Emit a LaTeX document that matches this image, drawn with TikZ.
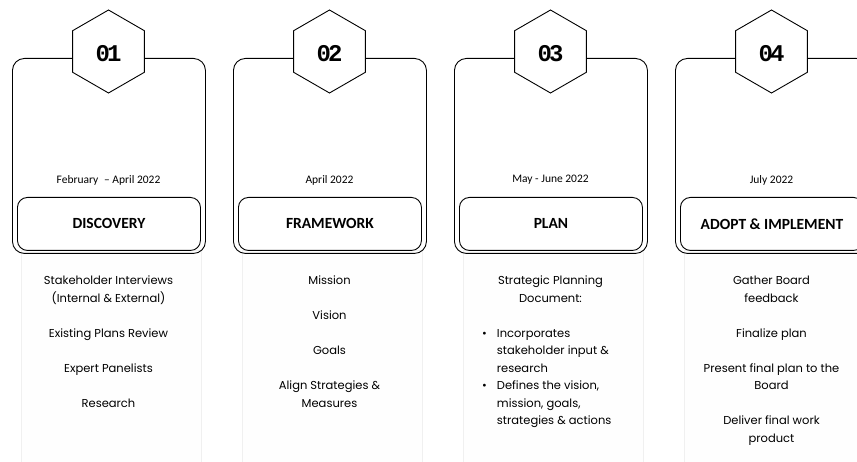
\documentclass[tikz,border=0pt]{standalone}
\usepackage{fontspec}
\setmainfont{Carlito}
\newfontfamily\gothic{Poppins}
\newfontfamily\hexfont{Liberation Mono}
\usetikzlibrary{shapes.geometric}

\begin{document}
\begin{tikzpicture}[
    x=1pt, y=-1pt,
    card/.style={draw, line width=0.9pt, rounded corners=12pt, minimum width=193pt, minimum height=195pt, anchor=north west},
    hexa/.style={draw, fill=white, line width=0.9pt, regular polygon, regular polygon sides=6,
                 regular polygon rotate=30, minimum size=83pt, inner sep=0pt},
    number/.style={inner sep=0pt, font=\hexfont\bfseries\fontsize{24}{24}\selectfont},
    stage/.style={draw, line width=0.9pt, rounded corners=10pt, minimum width=183pt, minimum height=53pt,
                  anchor=north west, font=\bfseries\fontsize{15.5}{17}\selectfont},
    date/.style={font=\fontsize{11.5}{13}\selectfont},
    panel/.style={draw=gray!12, fill=gray!1, minimum width=180pt, minimum height=220pt, anchor=north west},
    tasks/.style={align=center, anchor=north, inner sep=0pt, font=\gothic\fontsize{11.5}{17.5}\selectfont}
]

\useasboundingbox (0,0) rectangle (857,462);
\clip (0,0) rectangle (857,462);

% Lower panels
\foreach \i/\x in {1/12, 2/233, 3/454, 4/675} {
    \node[panel] (panel\i) at (\x+9,250) {};
}

% Cards with hexagon, date and stage
\foreach \i/\x/\when/\what in {1/12/{February\enspace-- April 2022}/DISCOVERY,
                               2/233/{April 2022}/FRAMEWORK,
                               3/454/{May - June 2022}/PLAN,
                               4/675/{July 2022}/ADOPT \& IMPLEMENT} {
    \node[card] (card\i) at (\x,58) {};
    \node[hexa] (hex\i) at (\x+96.5,51.5) {};
    \node[number] (num\i) at (\x+96.5,53.5) {0\kern-.12em\i};
    \node[date] (date\i) at (\x+96.5,180) {\when};
    \node[stage] (stage\i) at (\x+5,197) {\what};
}

% Discovery
\node[tasks] (tasks1) at (108.5,276) {Stakeholder Interviews\\(Internal \& External)\\[17.5pt]
    Existing Plans Review\\[17.5pt]Expert Panelists\\[17.5pt]Research};

% Framework
\node[tasks] (tasks2) at (329.5,276) {Mission\\[17.5pt]Vision\\[17.5pt]Goals\\[17.5pt]
    Align Strategies \&\\Measures};

% Plan
\node[tasks] (tasks3) at (550.5,276) {Strategic Planning\\Document:};
\node[tasks, anchor=north west, align=left] (bullets3) at (482,325) {%
    \renewcommand{\arraystretch}{1}%
    \begin{tabular}{@{}l@{\hspace{10pt}}l@{}}
    \textbullet & Incorporates\\
                & stakeholder input \&\\
                & research\\
    \textbullet & Defines the vision,\\
                & mission, goals,\\
                & strategies \& actions
    \end{tabular}};

% Adopt & implement
\node[tasks] (tasks4) at (771.5,276) {Gather Board\\feedback\\[17.5pt]Finalize plan\\[17.5pt]
    Present final plan to the\\Board\\[17.5pt]Deliver final work\\product};

\end{tikzpicture}
\end{document}
